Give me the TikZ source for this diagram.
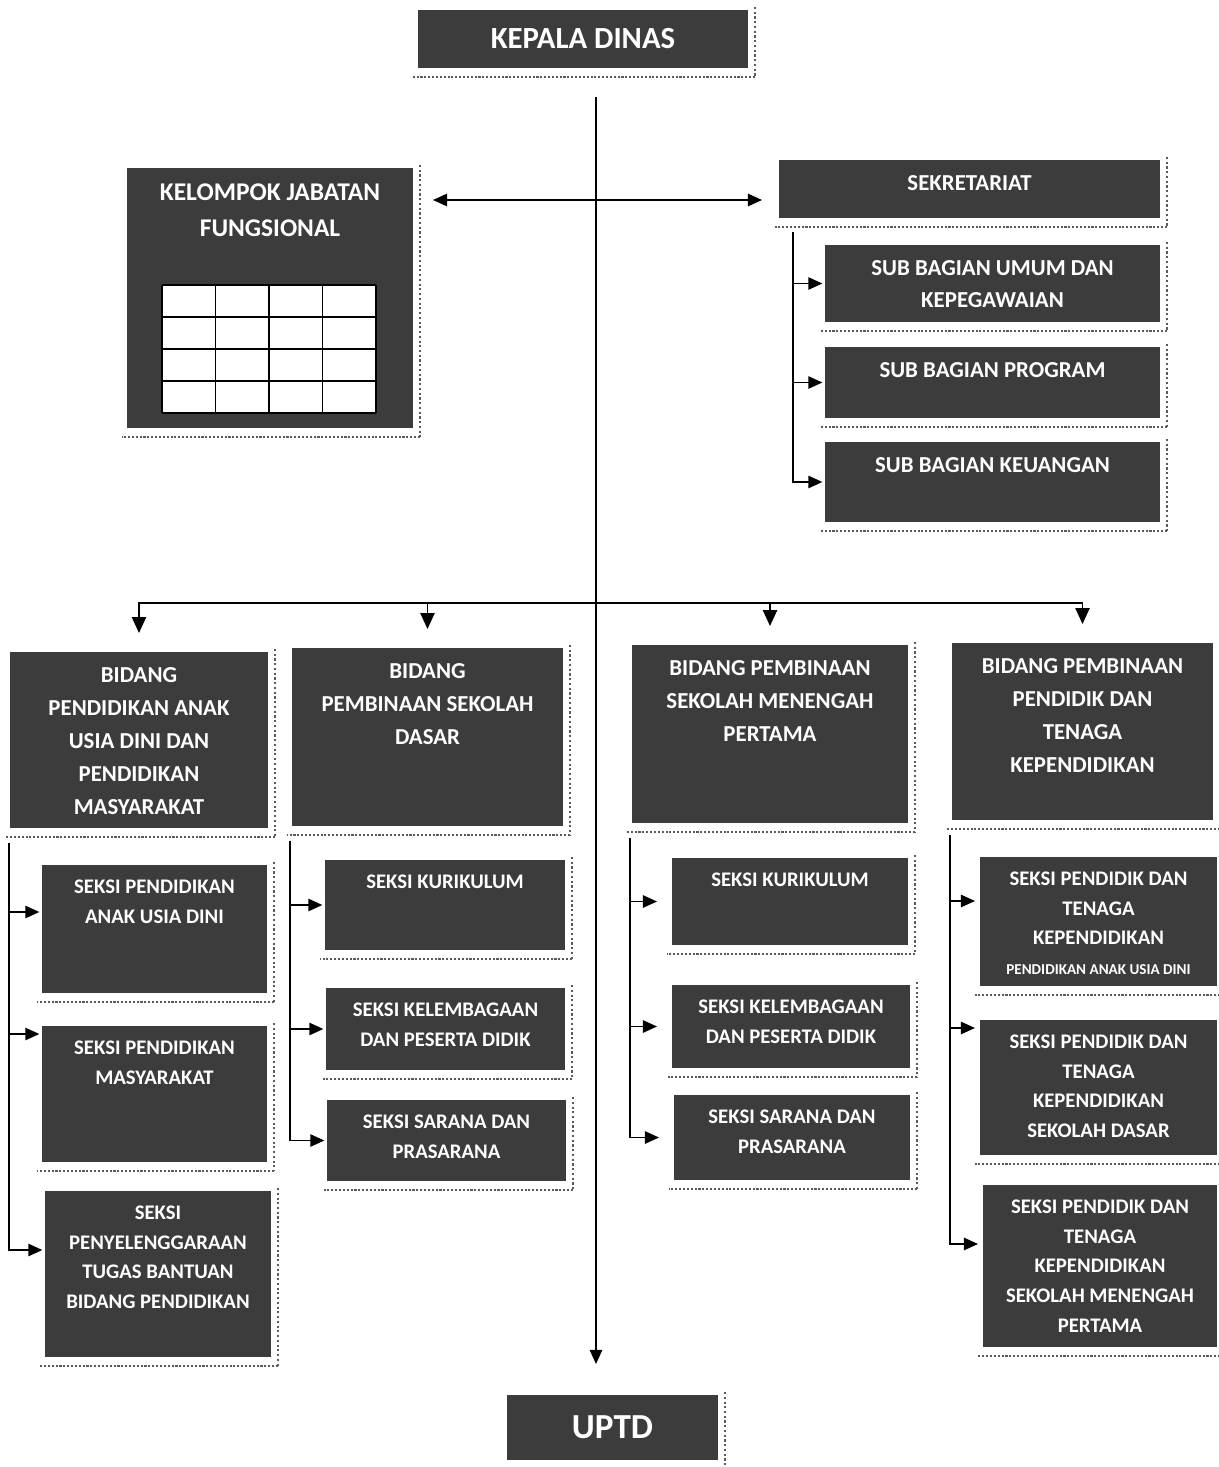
\documentclass[tikz,border=0pt]{standalone}
\usepackage{fontspec}
\setmainfont{Carlito}
\usepackage{xcolor}
\usepackage{tikz}
\usetikzlibrary{arrows.meta, positioning, calc}
\definecolor{boxgray}{RGB}{60, 60, 60}
\definecolor{shadowgray}{RGB}{90, 90, 90}
\newcommand{\unitbox}[7]{%
  \node[orgbox, minimum width=(#5-#3)*0.02cm, minimum height=(#6-#4)*0.02cm,
    label={[#2]north:{#7}}] (#1) at ({(#3+#5)/2},{(#4+#6)/2}) {};
}
\newcommand{\boxshadow}[1]{%
  \draw[shadowgray, line width=0.6pt, dash pattern=on 1.2pt off 1.5pt]
    ([shift={(0.14cm,0.06cm)}]#1.north east) -- ([shift={(0.14cm,-0.18cm)}]#1.south east);
  \draw[shadowgray, line width=1.2pt, densely dotted]
    ([shift={(0.14cm,-0.18cm)}]#1.south east) -- ([shift={(-0.1cm,-0.18cm)}]#1.south west);
}
\tikzset{
  orgbox/.style={fill=boxgray, inner sep=0pt, outer sep=0pt},
  boxtext/.style={text=white, align=center, anchor=north, yshift=-0.3cm, inner sep=0pt},
  seksi/.style={boxtext, font=\bfseries\fontsize{11.8}{16.8}\selectfont},
  bidang/.style={boxtext, font=\bfseries\fontsize{13}{18.8}\selectfont},
  subbag/.style={boxtext, font=\bfseries\fontsize{13}{18.2}\selectfont},
  jabatan/.style={boxtext, font=\bfseries\fontsize{14.5}{20.5}\selectfont},
  conn/.style={line width=1pt},
  arr/.style={conn, -{Triangle[length=8pt,width=7pt]}, shorten >=1.5pt},
  downarr/.style={conn, -{Triangle[length=9pt,width=8pt]}},
  dblarr/.style={conn, {Triangle[length=8pt,width=7pt]}-{Triangle[length=8pt,width=7pt]}},
}

\begin{document}
\begin{tikzpicture}[x=0.02cm, y=-0.02cm]
    \useasboundingbox (0,0) rectangle (1219,1467);
    \fill[white] (0,0) rectangle (1219,1467);
    % Top and bottom
    \node[orgbox, minimum width=6.6cm, minimum height=1.16cm, text=white,
      font=\bfseries\fontsize{17.5}{21}\selectfont] (kadis) at (583,39) {KEPALA DINAS};
    \node[orgbox, minimum width=4.22cm, minimum height=1.3cm, text=white,
      font=\bfseries\fontsize{20}{24}\selectfont] (uptd) at (612.5,1427.5) {UPTD};
    % Jabatan fungsional and sekretariat
    \unitbox{kjf}{jabatan}{127}{168}{413}{428}{KELOMPOK JABATAN\\FUNGSIONAL}
    \fill[white] (162,285) rectangle (376,413);
    \foreach \gx in {162,215.5,269,322.5,376} {
      \draw[conn] (\gx,285) -- (\gx,413);
    }
    \foreach \gy in {285,317,349,381,413} {
      \draw[conn] (162,\gy) -- (376,\gy);
    }
    \unitbox{sekr}{subbag}{779}{160}{1160}{218}{SEKRETARIAT}
    \unitbox{subumum}{subbag}{825}{245}{1160}{322}{SUB BAGIAN UMUM DAN\\KEPEGAWAIAN}
    \unitbox{subprog}{subbag}{825}{347}{1160}{418}{SUB BAGIAN PROGRAM}
    \unitbox{subkeu}{subbag}{825}{442}{1160}{522}{SUB BAGIAN KEUANGAN}
    % Bidang
    \unitbox{paud}{bidang}{10}{652}{268}{828}{BIDANG\\PENDIDIKAN ANAK\\USIA DINI DAN\\PENDIDIKAN\\MASYARAKAT}
    \unitbox{sd}{bidang}{292}{648}{563}{826}{BIDANG\\PEMBINAAN SEKOLAH\\DASAR}
    \unitbox{smp}{bidang}{632}{645}{908}{823}{BIDANG PEMBINAAN\\SEKOLAH MENENGAH\\PERTAMA}
    \unitbox{ptk}{bidang}{952}{643}{1213}{820}{BIDANG PEMBINAAN\\PENDIDIK DAN\\TENAGA\\KEPENDIDIKAN}
    % Seksi
    \unitbox{paudA}{seksi}{42}{865}{267}{993}{SEKSI PENDIDIKAN\\ANAK USIA DINI}
    \unitbox{paudB}{seksi}{42}{1026}{267}{1162}{SEKSI PENDIDIKAN\\MASYARAKAT}
    \unitbox{paudC}{seksi}{45}{1191}{271}{1357}{SEKSI\\PENYELENGGARAAN\\TUGAS BANTUAN\\BIDANG PENDIDIKAN}
    \unitbox{sdA}{seksi}{325}{860}{565}{950}{SEKSI KURIKULUM}
    \unitbox{sdB}{seksi}{326}{988}{565}{1070}{SEKSI KELEMBAGAAN\\DAN PESERTA DIDIK}
    \unitbox{sdC}{seksi}{327}{1100}{566}{1181}{SEKSI SARANA DAN\\PRASARANA}
    \unitbox{smpA}{seksi}{672}{858}{908}{945}{SEKSI KURIKULUM}
    \unitbox{smpB}{seksi}{672}{985}{910}{1068}{SEKSI KELEMBAGAAN\\DAN PESERTA DIDIK}
    \unitbox{smpC}{seksi}{674}{1095}{910}{1180}{SEKSI SARANA DAN\\PRASARANA}
    \unitbox{ptkA}{seksi}{980}{857}{1217}{986}{SEKSI PENDIDIK DAN\\TENAGA\\KEPENDIDIKAN\\{\fontsize{8.6}{17}\selectfont PENDIDIKAN ANAK USIA DINI}}
    \unitbox{ptkB}{seksi}{980}{1020}{1217}{1155}{SEKSI PENDIDIK DAN\\TENAGA\\KEPENDIDIKAN\\SEKOLAH DASAR}
    \unitbox{ptkC}{seksi}{983}{1185}{1217}{1347}{SEKSI PENDIDIK DAN\\TENAGA\\KEPENDIDIKAN\\SEKOLAH MENENGAH\\PERTAMA}
    % Shadows
    \foreach \n in {kadis,uptd,kjf,sekr,subumum,subprog,subkeu,paud,sd,smp,ptk,
      paudA,paudB,paudC,sdA,sdB,sdC,smpA,smpB,smpC,ptkA,ptkB,ptkC} {
      \boxshadow{\n}
    }
    % Main line
    \coordinate (trunk) at (596,97);
    \draw[arr, shorten >=0.62cm] (trunk) -- (trunk |- uptd.north);
    \coordinate (mid) at (596,200);
    \draw[dblarr, shorten <=0.4cm, shorten >=0.34cm] (kjf.east |- mid) -- (sekr.west |- mid);
    % Sekretariat branch
    \coordinate (sekrbr) at ([shift={(0.28cm,-0.28cm)}]sekr.south west);
    \foreach \s in {subumum,subprog,subkeu} {
      \draw[arr] (sekrbr) |- (\s.west);
    }
    % Bidang bus
    \coordinate (bus) at (596,603);
    \foreach \b in {paud,sd,smp,ptk} {
      \draw[downarr, shorten >=0.38cm] (bus) -| (\b.north);
    }
    % Seksi branches
    \coordinate (paudbr) at ([shift={(-0.02cm,-0.3cm)}]paud.south west);
    \draw[arr] (paudbr) |- ([yshift=-0.94cm]paudA.north west);
    \draw[arr] (paudbr) |- ([yshift=-0.16cm]paudB.north west);
    \draw[arr] (paudbr) |- ([yshift=-1.18cm]paudC.north west);
    \coordinate (sdbr) at ([shift={(-0.04cm,-0.3cm)}]sd.south west);
    \foreach \c in {sdA,sdB,sdC} {
      \draw[arr] (sdbr) |- (\c.west);
    }
    \coordinate (smpbr) at ([shift={(-0.04cm,-0.3cm)}]smp.south west);
    \foreach \c in {smpA,smpB,smpC} {
      \draw[arr, shorten >=0.3cm] (smpbr) |- (\c.west);
    }
    \coordinate (ptkbr) at ([shift={(-0.04cm,-0.3cm)}]ptk.south west);
    \draw[arr, shorten >=0.1cm] (ptkbr) |- ([yshift=-0.88cm]ptkA.north west);
    \draw[arr, shorten >=0.1cm] (ptkbr) |- ([yshift=-0.16cm]ptkB.north west);
    \draw[arr, shorten >=0.1cm] (ptkbr) |- ([yshift=-1.18cm]ptkC.north west);
\end{tikzpicture}
\end{document}
